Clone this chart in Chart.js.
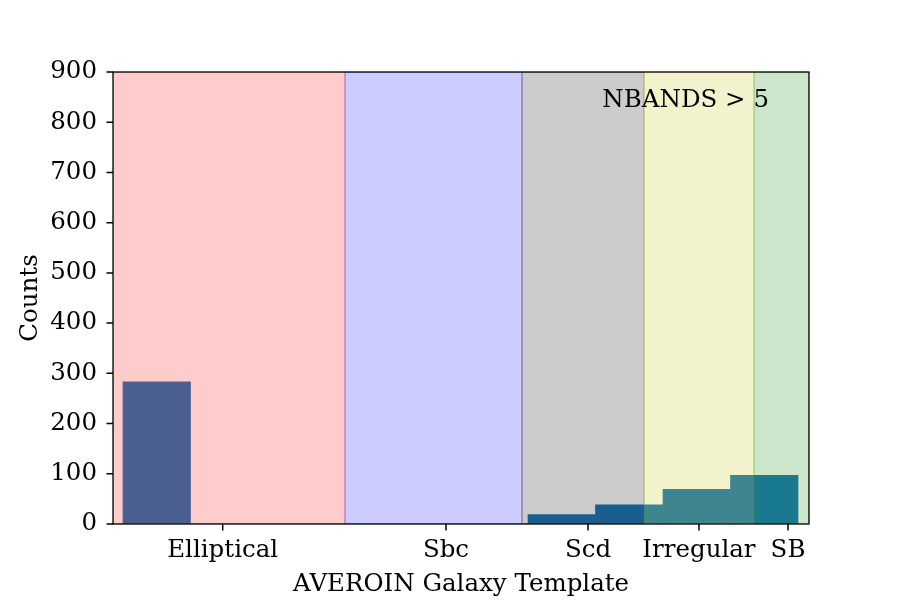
<!DOCTYPE html>
<html>
<head>
<meta charset="utf-8">
<script src="https://cdn.jsdelivr.net/npm/chart.js@4/dist/chart.umd.min.js"></script>
<style>
html,body{margin:0;padding:0;background:#fff;}
#wrap{width:900px;height:600px;}
</style>
</head>
<body>
<div id="wrap"><canvas id="c" width="900" height="600"></canvas></div>
<script>
// ---- data ----
const binCenters = [0.5, 1.5, 2.5, 3.5, 4.5, 5.5, 6.5, 7.5, 8.5, 9.5];
const counts = [283, 0, 0, 0, 0, 0, 19, 38, 69, 97];
const templateLabels = ['Elliptical', 'Sbc', 'Scd', 'Irregular', 'SB'];
const templateTicks = [1.477, 4.785, 6.889, 8.533, 9.852];
const spanEdges = [-0.148, 3.289, 5.911, 7.719, 9.348, 10.163];
const spanColors = ['rgba(255,0,0,0.2)', 'rgba(0,0,255,0.2)', 'rgba(0,0,0,0.2)', 'rgba(191,191,0,0.2)', 'rgba(0,128,0,0.2)'];
const yTicks = [0, 100, 200, 300, 400, 500, 600, 700, 800, 900];

const FONT = 'DejaVu Serif';
const FS = 24.5;
const TICK_LEN = 6.5;

const overlayPlugin = {
  id: 'overlay',
  afterDatasetsDraw(chart) {
    const {ctx, chartArea: a, scales: {x}} = chart;
    ctx.save();
    ctx.beginPath();
    ctx.rect(a.left, a.top, a.right - a.left, a.bottom - a.top);
    ctx.clip();
    for (let i = 0; i < spanColors.length; i++) {
      const x0 = x.getPixelForValue(spanEdges[i]);
      const x1 = x.getPixelForValue(spanEdges[i + 1]);
      ctx.fillStyle = spanColors[i];
      ctx.fillRect(x0, a.top, x1 - x0, a.bottom - a.top);
      ctx.strokeStyle = spanColors[i];
      ctx.lineWidth = 1.5;
      ctx.strokeRect(x0, a.top, x1 - x0, a.bottom - a.top);
    }
    ctx.restore();
  },
  afterDraw(chart) {
    const {ctx, chartArea: a, scales: {x, y}} = chart;
    ctx.save();
    ctx.strokeStyle = '#000';
    ctx.lineWidth = 1.3;
    ctx.strokeRect(a.left, a.top, a.right - a.left, a.bottom - a.top);
    // tick marks
    ctx.lineWidth = 1.5;
    ctx.beginPath();
    templateTicks.forEach(v => {
      const px = x.getPixelForValue(v);
      ctx.moveTo(px, a.bottom);
      ctx.lineTo(px, a.bottom + TICK_LEN);
    });
    yTicks.forEach(v => {
      const py = y.getPixelForValue(v);
      ctx.moveTo(a.left, py);
      ctx.lineTo(a.left - TICK_LEN, py);
    });
    ctx.stroke();
    ctx.fillStyle = '#000';
    ctx.font = FS + 'px "' + FONT + '"';
    ctx.textAlign = 'right';
    ctx.textBaseline = 'alphabetic';
    ctx.fillText('NBANDS > 5', a.right - 40, a.top + 35);
    ctx.restore();
  }
};

new Chart(document.getElementById('c'), {
  type: 'bar',
  data: {
    datasets: [{
      data: binCenters.map((v, i) => ({x: v, y: counts[i]})),
      backgroundColor: '#1f77b4',
      borderWidth: 0,
      barPercentage: 1.0,
      categoryPercentage: 1.0
    }]
  },
  options: {
    responsive: false,
    animation: false,
    devicePixelRatio: 1,
    layout: {padding: {left: 0, right: 91, top: 72, bottom: 0}},
    plugins: {legend: {display: false}, tooltip: {enabled: false}},
    scales: {
      x: {
        type: 'linear',
        min: spanEdges[0],
        max: spanEdges[spanEdges.length - 1],
        offset: false,
        afterFit(s) { s.height = 76; },
        afterBuildTicks(s) { s.ticks = templateTicks.map(v => ({value: v})); },
        ticks: {
          autoSkip: false, maxRotation: 0, color: '#000', padding: 6,
          font: {family: FONT, size: FS},
          callback: (v) => { const i = templateTicks.indexOf(v); return i >= 0 ? templateLabels[i] : ''; }
        },
        grid: {offset: false, drawOnChartArea: false, drawTicks: true, tickLength: 6, color: 'rgba(0,0,0,0)'},
        border: {display: false},
        title: {display: true, text: 'AVEROIN Galaxy Template', color: '#000', font: {family: FONT, size: FS}, padding: {top: 0, bottom: 1}}
      },
      y: {
        type: 'linear',
        min: 0, max: 900,
        afterFit(s) { s.width = 113; },
        afterBuildTicks(s) { s.ticks = yTicks.map(v => ({value: v})); },
        ticks: {color: '#000', padding: 10, font: {family: FONT, size: FS}},
        grid: {offset: false, drawOnChartArea: false, drawTicks: true, tickLength: 6, color: 'rgba(0,0,0,0)'},
        border: {display: false},
        title: {display: true, text: 'Counts', color: '#000', font: {family: FONT, size: FS}, padding: {top: 16, bottom: 0}}
      }
    }
  },
  plugins: [overlayPlugin]
});
</script>
</body>
</html>
